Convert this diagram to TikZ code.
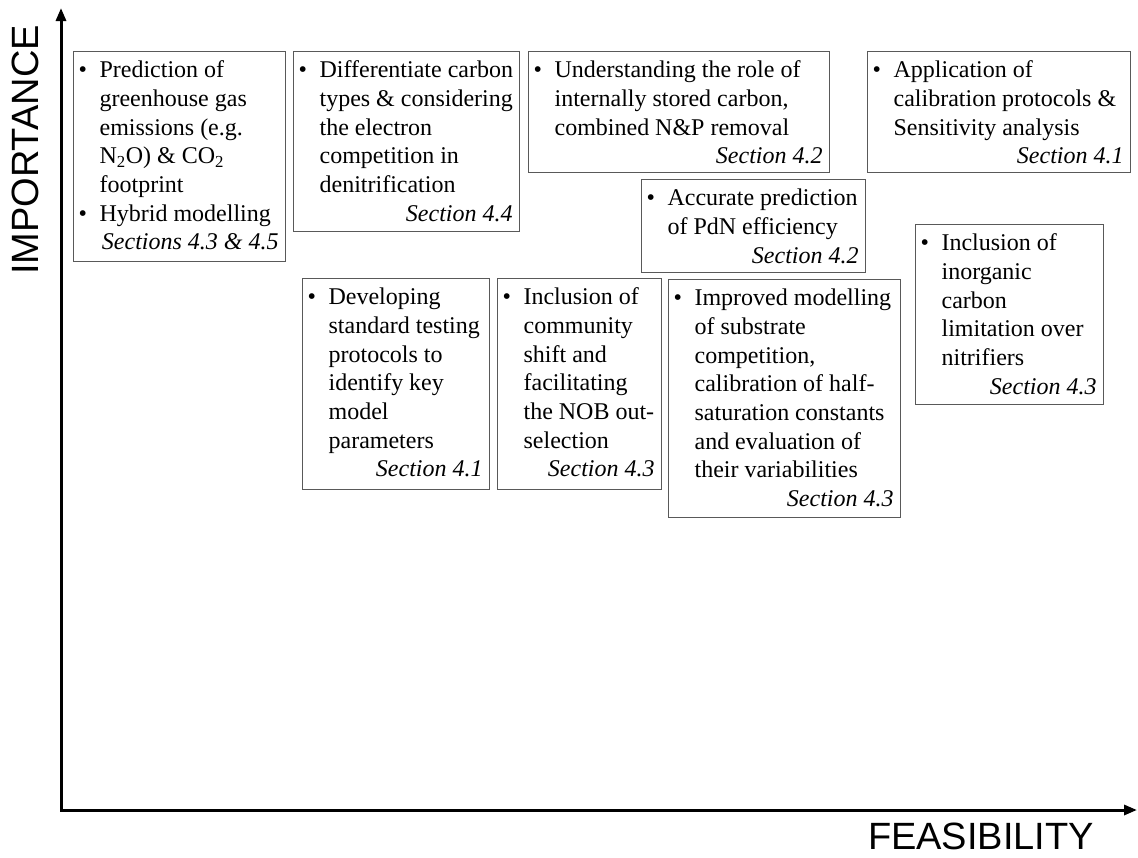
\documentclass[tikz,border=0pt]{standalone}
\usepackage{fontspec}
\setmainfont{Liberation Serif}
\newfontfamily\axisfont{Liberation Sans}
\usetikzlibrary{arrows.meta}

\newcommand{\itm}{\par\noindent\llap{\makebox[21pt][l]{\textbullet}}\ignorespaces}
\newcommand{\sect}[1]{\par{\leftskip=0pt plus 1fil\rightskip=7pt\parfillskip=0pt\itshape #1\par}}
\newcommand{\entry}[2]{\begin{minipage}[t]{#1}\leftskip=26pt\rightskip=-40pt plus 1fil\parindent=0pt #2\end{minipage}}

\begin{document}
\begin{tikzpicture}[x=1pt, y=-1pt,
topic/.style = {draw=black!65, line width=1.2pt, inner sep=0pt,
	anchor=north west, text height=26pt, text depth=#1,
	font=\fontsize{24}{28.7}\selectfont},
axis/.style = {line width=3pt, {Triangle[length=13pt,width=10pt]}-{Triangle[length=13pt,width=10pt]}},
axislabel/.style = {inner sep=0pt, font=\axisfont\fontsize{38}{40}\selectfont}]
\useasboundingbox (0,0) rectangle (1138,857);

% axes
\coordinate (ytop) at (61,8);
\coordinate (origin) at (61,810);
\coordinate (xend) at (1137,810);
\draw[axis] (ytop) -- (origin) -- (xend);
\node[axislabel, rotate=90] (importance) at (25,150) {IMPORTANCE};
\node[axislabel, font=\axisfont\fontsize{38}{40}\selectfont] (feasibility) at (981,836) {FEASIBILITY};

% top row
\node[topic=184pt] (predict) at (73,51) {\entry{212pt}{%
	\itm Prediction of\newline greenhouse gas\newline emissions (e.g.\newline
	N\textsubscript{2}O) \& CO\textsubscript{2}\newline footprint
	\itm Hybrid modelling
	\sect{Sections 4.3 \& 4.5}}};
\node[topic=154pt] (carbon) at (293,51) {\entry{226pt}{%
	\itm Differentiate carbon\newline types \& considering\newline the electron\newline
	competition in\newline denitrification
	\sect{Section 4.4}}};
\node[topic=95pt] (storage) at (528,51) {\entry{301pt}{%
	\itm Understanding the role of\newline internally stored carbon,\newline combined N\&P removal
	\sect{Section 4.2}}};
\node[topic=95pt] (calib) at (867,51) {\entry{263pt}{%
	\itm Application of\newline calibration protocols \&\newline Sensitivity analysis
	\sect{Section 4.1}}};
\node[topic=67pt] (pdn) at (641,179) {\entry{224pt}{%
	\itm Accurate prediction\newline of PdN efficiency
	\sect{Section 4.2}}};
\node[topic=154pt] (inorganic) at (915,224) {\entry{188pt}{%
	\itm Inclusion of\newline inorganic\newline carbon\newline limitation over\newline nitrifiers
	\sect{Section 4.3}}};

% lower row
\node[topic=185pt] (testing) at (302,278) {\entry{187pt}{%
	\itm Developing\newline standard testing\newline protocols to\newline identify key\newline
	model\newline parameters
	\sect{Section 4.1}}};
\node[topic=185pt] (nob) at (497,278) {\entry{164pt}{%
	\itm Inclusion of\newline community\newline shift and\newline facilitating\newline
	the NOB out-\newline selection
	\sect{Section 4.3}}};
\node[topic=212pt] (substrate) at (668,279) {\entry{232pt}{%
	\itm Improved modelling\newline of substrate\newline competition,\newline
	calibration of half-\newline saturation constants\newline and evaluation of\newline
	their variabilities
	\sect{Section 4.3}}};
\end{tikzpicture}
\end{document}
